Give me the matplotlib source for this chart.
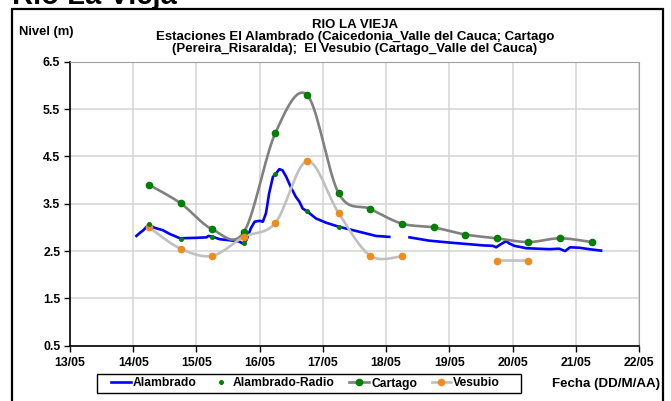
import numpy as np
import matplotlib
matplotlib.use("Agg")
import matplotlib.pyplot as plt
from matplotlib.patches import Rectangle

plt.rcParams['font.family'] = ['Liberation Sans', 'DejaVu Sans']
plt.rcParams['font.weight'] = 'bold'

# x values are days counted from 13/05 00:00
day_labels = ['13/05', '14/05', '15/05', '16/05', '17/05', '18/05',
              '19/05', '20/05', '21/05', '22/05']
y_ticks = [0.5, 1.5, 2.5, 3.5, 4.5, 5.5, 6.5]

# Alambrado (continuous record, gap on 18/05)
alam_t = [1.05, 1.11, 1.16, 1.25, 1.32, 1.47, 1.58, 1.74, 2.00, 2.16, 2.19,
          2.26, 2.37, 2.52, 2.68, 2.73, 2.79, 2.86, 2.92, 3.00, 3.05, 3.10,
          3.15, 3.21, 3.26, 3.31, 3.36, 3.42, 3.49, 3.57, 3.63, 3.68, 3.76,
          3.89, 4.05, 4.26, 4.42, 4.63, 4.84, 5.05, 5.20,
          5.37, 5.68, 6.00, 6.27, 6.53, 6.69, 6.74, 6.82, 6.90, 6.95, 7.03,
          7.22, 7.58, 7.74, 7.83, 7.91, 8.06, 8.21, 8.40]
alam_v = [2.82, 2.89, 2.94, 3.07, 3.00, 2.94, 2.86, 2.77, 2.78, 2.79, 2.82,
          2.80, 2.75, 2.73, 2.70, 2.66, 2.73, 2.98, 3.12, 3.14, 3.12, 3.30,
          3.72, 4.07, 4.14, 4.23, 4.21, 4.07, 3.86, 3.65, 3.54, 3.40, 3.33,
          3.19, 3.10, 3.01, 2.96, 2.89, 2.82, 2.80, np.nan,
          2.79, 2.72, 2.68, 2.65, 2.62, 2.61, 2.58, 2.65, 2.71, 2.66, 2.61,
          2.56, 2.54, 2.55, 2.50, 2.58, 2.57, 2.54, 2.51]

# Alambrado-Radio readings
radio_t = [1.25, 1.75, 2.25, 2.75, 3.25, 3.75, 4.25]
radio_v = [3.08, 2.76, 2.80, 2.66, 4.12, 3.34, 3.00]

# Cartago and Vesubio readings (06:00 and 18:00)
read_t = [1.25, 1.75, 2.25, 2.75, 3.25, 3.75, 4.25, 4.75, 5.25, 5.75,
          6.25, 6.75, 7.25, 7.75, 8.25]
cartago_v = [3.90, 3.51, 2.96, 2.90, 5.00, 5.80, 3.72, 3.39, 3.08, 3.00,
             2.85, 2.77, 2.69, 2.77, 2.69]
vesubio_v = [3.00, 2.55, 2.40, 2.80, 3.10, 4.40, 3.30, 2.40, 2.39, np.nan,
             np.nan, 2.30, 2.30, np.nan, np.nan]


def smooth(xs, ys, n=20):
    # Excel style smoothed line (bezier through the points), NaN breaks it
    xs = np.asarray(xs, float)
    ys = np.asarray(ys, float)
    out_x, out_y = [], []
    idx = np.where(~np.isnan(ys))[0]
    segs = np.split(idx, np.where(np.diff(idx) != 1)[0] + 1)
    for s in segs:
        px, py = xs[s], ys[s]
        if len(s) < 3:
            out_x += list(px) + [np.nan]
            out_y += list(py) + [np.nan]
            continue
        for i in range(len(s) - 1):
            x0, y0 = (px[i - 1], py[i - 1]) if i > 0 else (px[i], py[i])
            x3, y3 = (px[i + 2], py[i + 2]) if i + 2 < len(s) else (px[i + 1], py[i + 1])
            x1, y1, x2, y2 = px[i], py[i], px[i + 1], py[i + 1]
            c1x, c1y = x1 + (x2 - x0) / 6, y1 + (y2 - y0) / 6
            c2x, c2y = x2 - (x3 - x1) / 6, y2 - (y3 - y1) / 6
            t = np.linspace(0, 1, n)
            bx = (1-t)**3*x1 + 3*(1-t)**2*t*c1x + 3*(1-t)*t**2*c2x + t**3*x2
            by = (1-t)**3*y1 + 3*(1-t)**2*t*c1y + 3*(1-t)*t**2*c2y + t**3*y2
            out_x += list(bx)
            out_y += list(by)
        out_x.append(np.nan)
        out_y.append(np.nan)
    return out_x, out_y


W, H = 671, 401
fig = plt.figure(figsize=(W / 100, H / 100), dpi=100)
ax = fig.add_axes([70 / W, 1 - 345.7 / H, 569 / W, 283.9 / H])

green = '#008000'
orange = '#f08c1e'

ax.plot(alam_t, alam_v, color='#0000ff', lw=1.9, zorder=3)
ax.plot(radio_t, radio_v, 'o', color=green, ms=2.6, zorder=6)
cx, cy = smooth(read_t, cartago_v)
ax.plot(cx, cy, color='#808080', lw=1.9, zorder=4)
ax.plot(read_t, cartago_v, 'o', color=green, ms=4.5, zorder=5)
vx, vy = smooth(read_t, vesubio_v)
ax.plot(vx, vy, color='#c0c0c0', lw=1.9, zorder=4)
ax.plot(read_t, vesubio_v, 'o', color=orange, ms=4.5, zorder=5)

ax.set_xlim(0, 9)
ax.set_ylim(0.5, 6.5)
ax.set_xticks(range(10))
ax.set_xticklabels(day_labels)
ax.set_yticks(y_ticks)
ax.set_yticklabels(['%.1f' % v for v in y_ticks])
ax.tick_params(labelsize=8.8, length=4, width=1, direction='out')
ax.tick_params(axis='x', pad=4)
ax.tick_params(axis='y', pad=3)
ax.grid(True, color='#d4d4d4', lw=1.1)
ax.set_axisbelow(True)
for side in ['top', 'right']:
    ax.spines[side].set_color('#a0a0a0')
for side in ['left', 'bottom']:
    ax.spines[side].set_color('black')
    ax.spines[side].set_linewidth(1.2)

# legend handles
h1, = ax.plot([], [], color='#0000ff', lw=1.9)
h2, = ax.plot([], [], 'o', color=green, ms=2.6)
h3, = ax.plot([], [], color='#808080', lw=1.9, marker='o', mfc=green, mec=green, ms=4.5)
h4, = ax.plot([], [], color='#c0c0c0', lw=1.9, marker='o', mfc=orange, mec=orange, ms=4.5)
leg = fig.legend([h1, h2, h3, h4], ['Alambrado', 'Alambrado-Radio', 'Cartago', 'Vesubio'],
                 loc='center left', bbox_to_anchor=(111 / W, 1 - 383.5 / H), ncol=4,
                 fontsize=8.7, frameon=False, borderpad=0, borderaxespad=0,
                 handlelength=1.65, handletextpad=0.15, columnspacing=1.2)
fig.patches.append(Rectangle((97 / W, 1 - 393 / H), 424 / W, 19 / H,
                             transform=fig.transFigure, fill=False,
                             edgecolor='black', lw=1.0))

fig.text(660 / W, 1 - 383.5 / H, 'Fecha (DD/M/AA)', ha='right', va='center', fontsize=9.6)
fig.text(19 / W, 1 - 32 / H, 'Nivel (m)', ha='left', va='center', fontsize=9.4)
fig.text(355 / W, 1 - 37 / H, 'RIO LA VIEJA\nEstaciones El Alambrado (Caicedonia_Valle del Cauca; Cartago\n'
         '(Pereira_Risaralda);  El Vesubio (Cartago_Valle del Cauca)',
         ha='center', va='center', fontsize=9.5, linespacing=1.0)
fig.text(12 / W, 1 - 4 / H, 'Rio La Vieja', ha='left', va='baseline', fontsize=21)

# chart border
fig.patches.append(Rectangle((12 / W, -0.05), 651 / W, 1.05 - 9 / H,
                             transform=fig.transFigure, fill=False,
                             edgecolor='black', lw=1.6))

fig.savefig('out.png', dpi=100)
